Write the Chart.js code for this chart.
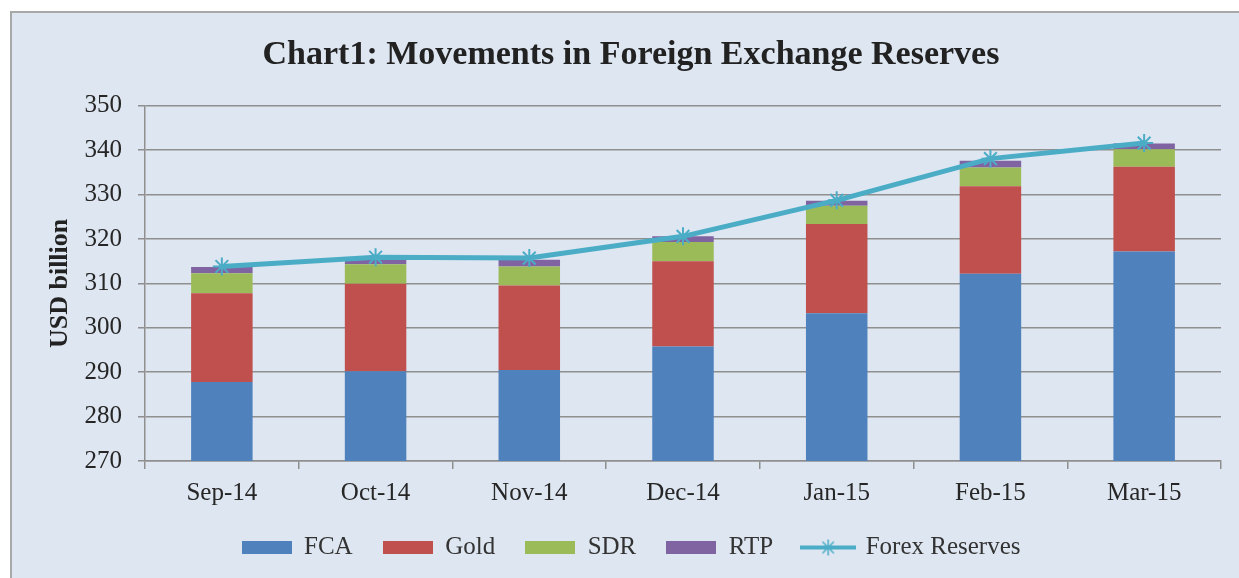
<!DOCTYPE html>
<html>
<head>
<meta charset="utf-8">
<script src="https://cdn.jsdelivr.net/npm/chart.js"></script>
<style>
  html, body { margin: 0; padding: 0; background: #fff; overflow: hidden; }
  #frame { position: absolute; left: 10px; top: 11px; width: 1250px; height: 580px; background: #dde6f1; border: 2px solid #a8a8a8; }
  #wrap { position: absolute; left: 0; top: 0; width: 1262px; height: 578px; }
</style>
</head>
<body>
<div id="frame"></div>
<div id="wrap"><canvas id="chartFx" width="1262" height="578"></canvas></div>
<script>
const months = ['Sep-14', 'Oct-14', 'Nov-14', 'Dec-14', 'Jan-15', 'Feb-15', 'Mar-15'];
const fca = [287.8, 290.2, 290.5, 295.8, 303.3, 312.2, 317.2];
const gold = [20.0, 19.7, 19.0, 19.2, 20.1, 19.7, 19.1];
const sdr = [4.5, 4.4, 4.3, 4.3, 4.1, 4.2, 3.9];
const rtp = [1.4, 1.2, 1.5, 1.3, 1.1, 1.5, 1.3];
const forex = [313.8, 315.9, 315.7, 320.6, 328.7, 338.1, 341.6];

const gridGrey = '#8f8f8f';
const teal = '#4bacc6';

// legend swatches drawn as little canvases
function boxIcon(color) {
  const c = document.createElement('canvas');
  c.width = 50; c.height = 13;
  const g = c.getContext('2d');
  g.fillStyle = color;
  g.fillRect(0, 0, 50, 13);
  return c;
}
function lineIcon(color) {
  const c = document.createElement('canvas');
  c.width = 56; c.height = 18;
  const g = c.getContext('2d');
  g.strokeStyle = color;
  g.lineWidth = 4;
  g.beginPath(); g.moveTo(0, 9); g.lineTo(56, 9); g.stroke();
  g.lineWidth = 1.5;
  g.beginPath();
  for (let a = 0; a < 4; a++) {
    const r = Math.PI / 4 * a;
    g.moveTo(28 + Math.cos(r) * 8, 9 + Math.sin(r) * 8);
    g.lineTo(28 - Math.cos(r) * 8, 9 - Math.sin(r) * 8);
  }
  g.stroke();
  return c;
}

Chart.defaults.font.family = "'Liberation Serif', 'Times New Roman', serif";
Chart.defaults.color = '#333';

new Chart(document.getElementById('chartFx'), {
  type: 'bar',
  data: {
    labels: months,
    datasets: [
      { label: 'FCA', data: fca, backgroundColor: '#4f81bd', stack: 'res', yAxisID: 'y', order: 1, icon: boxIcon('#4f81bd') },
      { label: 'Gold', data: gold, backgroundColor: '#c0504d', stack: 'res', yAxisID: 'y', order: 1, icon: boxIcon('#c0504d') },
      { label: 'SDR', data: sdr, backgroundColor: '#9bbb59', stack: 'res', yAxisID: 'y', order: 1, icon: boxIcon('#9bbb59') },
      { label: 'RTP', data: rtp, backgroundColor: '#8064a2', stack: 'res', yAxisID: 'y', order: 1, icon: boxIcon('#8064a2') },
      {
        type: 'line', label: 'Forex Reserves', data: forex, stack: 'line', yAxisID: 'y', order: 0,
        borderColor: teal, borderWidth: 5, tension: 0,
        pointStyle: 'star', pointRadius: 9, pointBorderWidth: 2,
        pointBorderColor: teal, pointBackgroundColor: teal,
        icon: lineIcon(teal)
      }
    ]
  },
  options: {
    responsive: false,
    animation: false,
    categoryPercentage: 0.4,
    barPercentage: 1,
    layout: { padding: { top: 14, left: 25, right: 25, bottom: 8 } },
    plugins: {
      title: {
        display: true,
        text: 'Chart1: Movements in Foreign Exchange Reserves',
        font: { size: 34, weight: 'bold' },
        color: '#222',
        padding: { top: 21, bottom: 30 }
      },
      legend: {
        position: 'bottom',
        labels: {
          usePointStyle: true,
          pointStyleWidth: 50,
          boxHeight: 13,
          padding: 30,
          font: { size: 25 },
          color: '#333',
          generateLabels: chart => chart.data.datasets.map((ds, i) => ({
            text: ds.label,
            pointStyle: ds.icon,
            datasetIndex: i,
            hidden: false,
            lineWidth: 0,
            fontColor: '#333'
          }))
        }
      },
      tooltip: { enabled: false }
    },
    scales: {
      y: {
        stacked: true,
        min: 270,
        max: 350,
        afterFit: s => { s.width = 120; },
        ticks: { stepSize: 10, padding: 16, font: { size: 25 }, color: '#262626' },
        grid: { color: gridGrey, lineWidth: 1.5, tickLength: 7 },
        border: { color: gridGrey, width: 1.5 },
        title: {
          display: true,
          text: 'USD billion',
          font: { size: 26, weight: 'bold' },
          color: '#222',
          padding: { top: 20, bottom: 8 }
        }
      },
      x: {
        stacked: true,
        afterFit: s => { s.height = 44; },
        ticks: { padding: 9, font: { size: 25 }, color: '#262626' },
        grid: { offset: true, drawOnChartArea: false, tickLength: 8, color: gridGrey, lineWidth: 1.5 },
        border: { color: gridGrey, width: 1.5 }
      },
      yRight: {
        type: 'linear',
        position: 'right',
        grid: { display: false },
        border: { display: false },
        ticks: { display: false },
        afterFit: s => { s.width = 16; }
      }
    }
  }
});
</script>
</body>
</html>
